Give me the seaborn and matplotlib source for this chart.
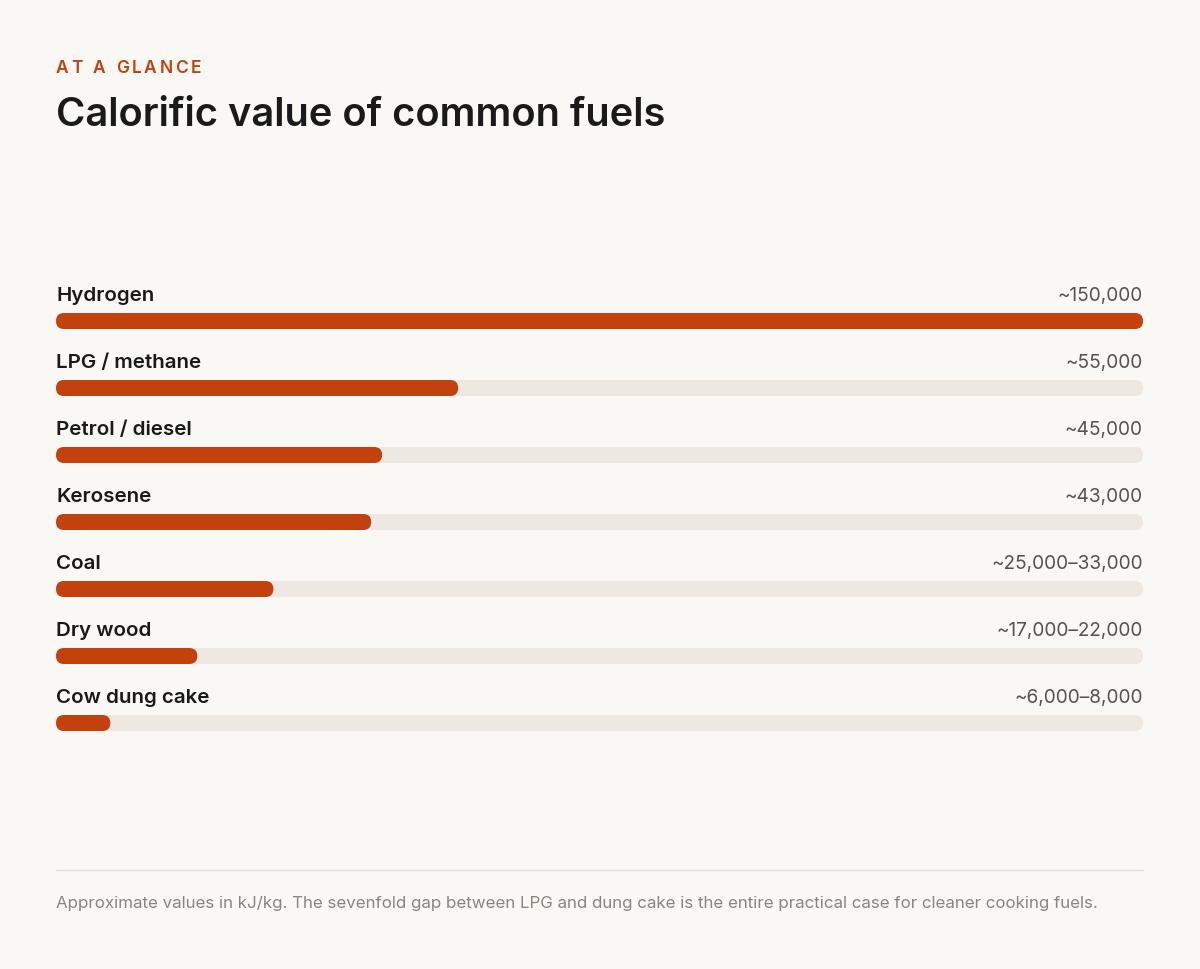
import numpy as np
import pandas as pd
import seaborn as sns
import matplotlib.pyplot as plt
from matplotlib.patches import FancyBboxPatch

# data
fuels = ['Hydrogen', 'LPG / methane', 'Petrol / diesel', 'Kerosene',
         'Coal', 'Dry wood', 'Cow dung cake']
values = [150000, 55500, 45000, 43500, 30000, 19500, 7500]  # kJ/kg, approx (bar lengths)
value_labels = ['~150,000', '~55,000', '~45,000', '~43,000',
                '~25,000\u201333,000', '~17,000\u201322,000', '~6,000\u20138,000']
max_value = 150000

bg = '#FAF8F4'
bar_color = '#C2410C'
track_color = '#EDE8E1'
ink = '#1A1A1A'

sns.set_theme(style='white')
plt.rcParams['font.family'] = ['Inter', 'DejaVu Sans']

W, H = 1200, 970
fig = plt.figure(figsize=(W / 100, H / 100), dpi=100, facecolor=bg)

def px(x, y):
    return x / W, 1 - y / H

# axes: rows every 67px, first bar centre at y=322
row = 67
top_px = 322 - row
bot_px = 322 + 6 * row + row / 2
ax = fig.add_axes([56 / W, (H - bot_px) / H, 1087 / W, (bot_px - top_px) / H])
ax.set_facecolor(bg)

df = pd.DataFrame({'fuel': fuels, 'value': values, 'track': [max_value] * len(fuels)})
bw = 16 / row
sns.barplot(data=df, x='track', y='fuel', color=track_color, width=bw, orient='h',
            saturation=1, ax=ax)
sns.barplot(data=df, x='value', y='fuel', color=bar_color, width=bw, orient='h',
            saturation=1, ax=ax)
ax.set_xlim(0, max_value)
ax.set_ylim(6.5, -1)
ax.axis('off')

# round the bars
r = 8 * max_value / 1087
asp = (8 / row) / r
for p in list(ax.patches):
    x0, y0 = p.get_xy()
    fb = FancyBboxPatch((x0, y0), p.get_width(), p.get_height(),
                        boxstyle=f'round,pad=0,rounding_size={r}',
                        mutation_aspect=asp, fc=p.get_facecolor(), ec='none',
                        zorder=p.get_zorder())
    p.remove()
    ax.add_patch(fb)

off = (301 - 322) / row
for i, (f, lab) in enumerate(zip(fuels, value_labels)):
    ax.text(0, i + off, f, ha='left', va='baseline', fontsize=14.8,
            fontweight='semibold', color=ink)
    ax.text(max_value, i + off, lab, ha='right', va='baseline', fontsize=13.7,
            color='#555350')

# kicker with letter spacing
kicker = 'AT A GLANCE'
fig.canvas.draw()
rend = fig.canvas.get_renderer()
widths = []
for ch in kicker:
    t = fig.text(0, 0, ch, fontsize=12.5, fontweight='semibold')
    widths.append(t.get_window_extent(rend).width if ch != ' ' else 0)
    t.remove()
space_w = 5.0
widths = [w if ch != ' ' else space_w for ch, w in zip(kicker, widths)]
gap = (145 - sum(widths)) / (len(kicker) - 1)
x = 56
for ch, w in zip(kicker, widths):
    if ch != ' ':
        fig.text(*px(x, 73), ch, fontsize=12.5, fontweight='semibold',
                 color=bar_color, va='baseline', ha='left')
    x += w + gap

fig.text(*px(56, 126), 'Calorific value of common fuels', fontsize=28.7,
         fontweight='semibold', color=ink, va='baseline', ha='left')

fig.add_artist(plt.Line2D([56 / W, 1143 / W], [1 - 871 / H, 1 - 871 / H],
                          color='#E2DED7', lw=1))
fig.text(*px(56, 908), 'Approximate values in kJ/kg. The sevenfold gap between LPG and dung cake '
         'is the entire practical case for cleaner cooking fuels.',
         fontsize=12.2, color='#8A857E', va='baseline', ha='left')

plt.savefig('out.png', dpi=100, facecolor=bg)
